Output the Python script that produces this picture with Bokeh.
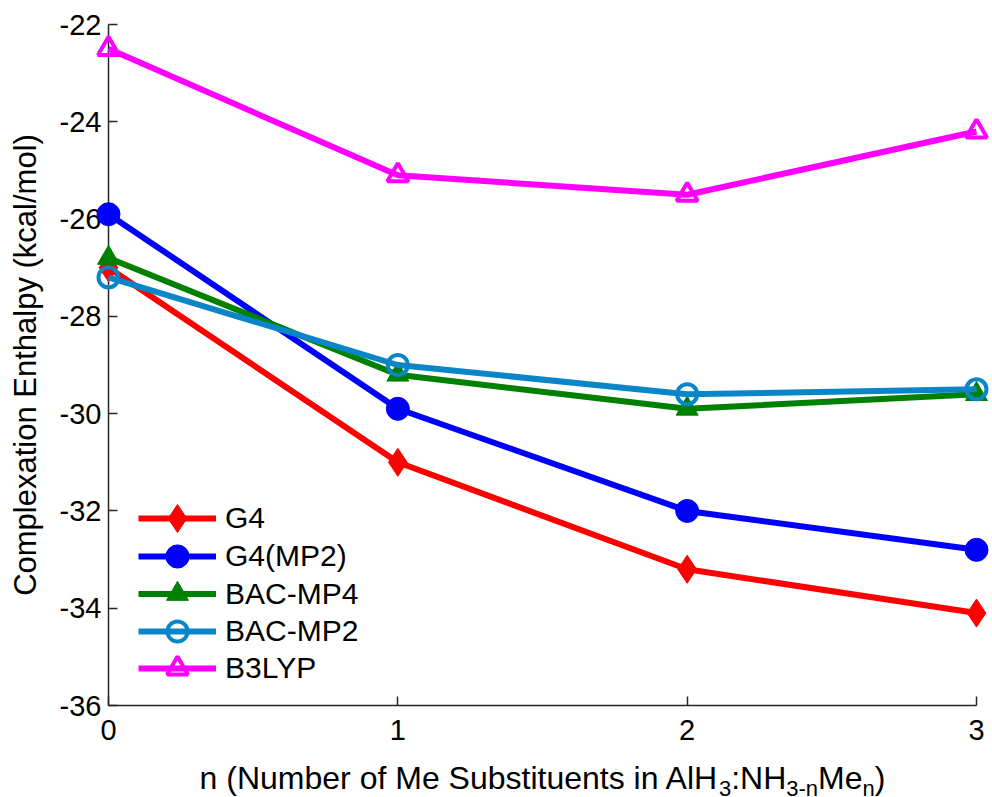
from bokeh.plotting import figure
from bokeh.models import Range1d, Legend, LegendItem, ColumnDataSource
from bokeh.core.properties import value
from bokeh.embed import file_html
from bokeh.resources import INLINE

# ---- data ----
n_values = [0, 1, 2, 3]
g4 = [-27.0, -31.0, -33.2, -34.1]
g4_mp2 = [-25.9, -29.9, -32.0, -32.8]
bac_mp4 = [-26.8, -29.2, -29.9, -29.6]
bac_mp2 = [-27.2, -29.0, -29.6, -29.5]
b3lyp = [-22.5, -25.1, -25.5, -24.2]
series_names = ["G4", "G4(MP2)", "BAC-MP4", "BAC-MP2", "B3LYP"]
x_ticks = [0, 1, 2, 3]
y_ticks = [-36, -34, -32, -30, -28, -26, -24, -22]
y_label = "Complexation Enthalpy (kcal/mol)"
x_label_parts = [("n (Number of Me Substituents in AlH", False), ("3", True),
                 (":NH", False), ("3-n", True), ("Me", False), ("n", True), (")", False)]

FONT = "Liberation Sans"
AX = "#262626"

W, H = 992, 797
BL, BR, BT, BB = 108, 16, 24, 92

p = figure(width=W, height=H, output_backend="svg", toolbar_location=None,
           x_range=Range1d(0, 3), y_range=Range1d(-36, -22),
           min_border_left=BL, min_border_right=BR, min_border_top=BT, min_border_bottom=BB)
p.outline_line_color = None
p.xgrid.visible = False
p.ygrid.visible = False
p.background_fill_color = "white"

for ax in (p.xaxis[0], p.yaxis[0]):
    ax.axis_line_color = AX
    ax.axis_line_width = 1.5
    ax.major_tick_line_color = AX
    ax.major_tick_line_width = 1.5
    ax.major_tick_in = 9
    ax.major_tick_out = 0
    ax.minor_tick_line_color = None
    ax.major_label_text_font = FONT
    ax.major_label_text_font_size = "29px"
    ax.major_label_text_color = "black"

p.xaxis.major_label_standoff = 14
p.yaxis.major_label_standoff = 7
p.xaxis.ticker = x_ticks
p.yaxis.ticker = y_ticks
p.yaxis.major_label_overrides = {v: str(v) for v in y_ticks}
p.yaxis.axis_label = y_label
p.yaxis.axis_label_text_font = FONT
p.yaxis.axis_label_text_font_size = "31px"
p.yaxis.axis_label_text_font_style = "normal"
p.yaxis.axis_label_text_color = "black"
p.yaxis.axis_label_standoff = 14

styles = [
    dict(data=g4, color="#FF0000", marker="diamond", size=28, fill=True, row=518),
    dict(data=g4_mp2, color="#0000FF", marker="circle", size=23, fill=True, row=556),
    dict(data=bac_mp4, color="#008000", marker="triangle", size=22, fill=True, row=593),
    dict(data=bac_mp2, color="#0A86C8", marker="circle", size=20, fill=False, row=631),
    dict(data=b3lyp, color="#FF00FF", marker="triangle", size=21, fill=False, row=668),
]

FRAME_BOTTOM = H - BB
for name, st in zip(series_names, styles):
    lr = p.line(n_values, st["data"], line_color=st["color"], line_width=6, level="overlay")
    sr = p.scatter(n_values, st["data"], marker=st["marker"], size=st["size"],
                   line_color=st["color"], line_width=4 if not st["fill"] else 1,
                   fill_color=st["color"] if st["fill"] else None, level="overlay")
    # one legend per entry so that markers keep their plotted size
    gh = int(round(st["size"] / 0.4))
    d = FRAME_BOTTOM - st["row"]
    lg = Legend(items=[LegendItem(label=name, renderers=[lr, sr])],
                location=(30, int(round(d - gh / 2))), glyph_width=78, glyph_height=gh,
                label_standoff=9, padding=0, margin=0, border_line_color=None,
                background_fill_alpha=0, label_text_font=FONT, label_text_font_size="30px",
                label_text_color="black", label_height=gh)
    p.add_layout(lg)

# ---- x axis label with subscripts (text pieces below the frame) ----
ADV = {' ': 278, 'n': 556, '(': 333, 'N': 722, 'u': 556, 'm': 833, 'b': 556, 'e': 556,
       'r': 333, 'o': 556, 'f': 278, 'M': 833, 'S': 667, 's': 500, 't': 278, 'i': 222,
       'A': 667, 'l': 222, 'H': 722, '3': 556, ':': 278, '-': 333, ')': 333}
MAIN_PX, SUB_PX = 32, 22
FRAME_W = W - BL - BR
def width(txt, px):
    return sum(ADV[c] for c in txt) / 1000.0 * px
total = sum(width(t, SUB_PX if s else MAIN_PX) for t, s in x_label_parts)
xoff = FRAME_W / 2 - total / 2
cols = dict(x=[], y=[], text=[], xo=[], yo=[], fs=[])
for txt, sub in x_label_parts:
    px = SUB_PX if sub else MAIN_PX
    cols["x"].append(0)
    cols["y"].append(-36)
    cols["text"].append(txt)
    cols["xo"].append(xoff)
    cols["yo"].append(83 if sub else 72)
    cols["fs"].append(f"{px}px")
    xoff += width(txt, px)
lab_src = ColumnDataSource(cols)
p.text(x="x", y="y", text="text", x_offset="xo", y_offset="yo", text_font_size="fs",
       source=lab_src, text_font=value(FONT), text_color="black",
       text_align="left", text_baseline="alphabetic", level="overlay")

open("out.html", "w").write(file_html(p, INLINE))
